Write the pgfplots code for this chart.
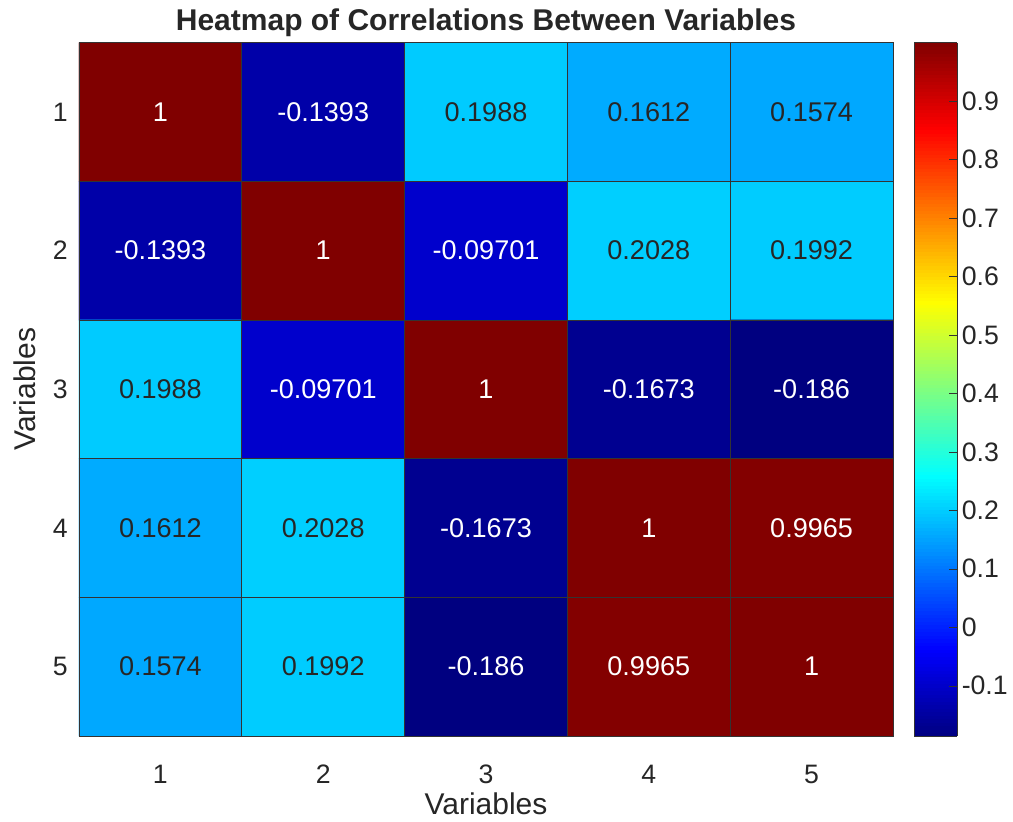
\documentclass[border=0pt]{standalone}
\usepackage{fontspec}
\setmainfont{Liberation Sans}
\usepackage{pgfplots}
\pgfplotsset{compat=1.18}
\definecolor{txt}{gray}{0.15}
\pgfplotstableread{
x y z
1 1 1
2 1 -0.1393
3 1 0.1988
4 1 0.1612
5 1 0.1574
1 2 -0.1393
2 2 1
3 2 -0.09701
4 2 0.2028
5 2 0.1992
1 3 0.1988
2 3 -0.09701
3 3 1
4 3 -0.1673
5 3 -0.186
1 4 0.1612
2 4 0.2028
3 4 -0.1673
4 4 1
5 4 0.9965
1 5 0.1574
2 5 0.1992
3 5 -0.186
4 5 0.9965
5 5 1
}\corr
\begin{document}
\begin{tikzpicture}
\useasboundingbox (-59.25pt,-63.75pt) rectangle ++(759.75pt,615.75pt);
\begin{axis}[
  name=main, at={(0,0)}, anchor=south west,
  scale only axis, width=610.5pt, height=520pt,
  xmin=0.5, xmax=5.5, ymin=0.5, ymax=5.5, y dir=reverse,
  xtick={1,2,3,4,5}, ytick={1,2,3,4,5},
  xticklabels={1,2,3,4,5}, yticklabels={1,2,3,4,5},
  major tick length=0pt,
  axis on top,
  axis line style={draw=black!80, line width=0.6pt},
  tick label style={font=\fontsize{20}{24}\selectfont, text=txt},
  yticklabel style={xshift=-5pt},
  xticklabel style={yshift=-18pt},
  extra x ticks={1.5,2.5,3.5,4.5}, extra x tick labels={},
  extra y ticks={1.5,2.5,3.5,4.5}, extra y tick labels={},
  extra tick style={grid=major, major grid style={draw=black!80, line width=0.7pt}},
  title={Heatmap of Correlations Between Variables},
  title style={font=\bfseries\fontsize{22.5}{26}\selectfont, text=txt, yshift=-5pt},
  xlabel={Variables}, ylabel={Variables},
  label style={font=\fontsize{22.5}{26}\selectfont, text=txt},
  xlabel style={inner sep=0pt, yshift=-3pt},
  ylabel style={yshift=6pt},
  colormap/jet,
  point meta min=-0.186, point meta max=1,
  colorbar sampled,
  colorbar style={
    at={(parent axis.north east)}, anchor=north west, xshift=7.5pt,
    width=32pt, samples=200,
    ytick={-0.1,0,0.1,0.2,0.3,0.4,0.5,0.6,0.7,0.8,0.9},
    yticklabels={-0.1,0,0.1,0.2,0.3,0.4,0.5,0.6,0.7,0.8,0.9},
    yticklabel style={font=\fontsize{20}{24}\selectfont, text=txt},
    ytick pos=right, ytick align=inside, major tick length=6pt,
    axis line style={draw=black!80, line width=0.6pt},
    tick style={draw=black!80},
  },
]
\addplot[matrix plot*, mesh/cols=5, point meta=explicit] table[meta=z] {\corr};
\addplot[only marks, mark=none, point meta=explicit symbolic, nodes near coords,
  nodes near coords style={anchor=center, text=white, font=\fontsize{20.3}{24}\selectfont}]
  table[meta=t] {
x y t
1 1 1
2 1 -0.1393
2 2 1
1 2 -0.1393
3 2 -0.09701
2 3 -0.09701
3 3 1
4 3 -0.1673
5 3 -0.186
3 4 -0.1673
4 4 1
5 4 0.9965
3 5 -0.186
4 5 0.9965
5 5 1
};
\addplot[only marks, mark=none, point meta=explicit symbolic, nodes near coords,
  nodes near coords style={anchor=center, text=txt, font=\fontsize{20.3}{24}\selectfont}]
  table[meta=t] {
x y t
3 1 0.1988
4 1 0.1612
5 1 0.1574
4 2 0.2028
5 2 0.1992
1 3 0.1988
1 4 0.1612
2 4 0.2028
1 5 0.1574
2 5 0.1992
};
\end{axis}
\end{tikzpicture}
\end{document}
